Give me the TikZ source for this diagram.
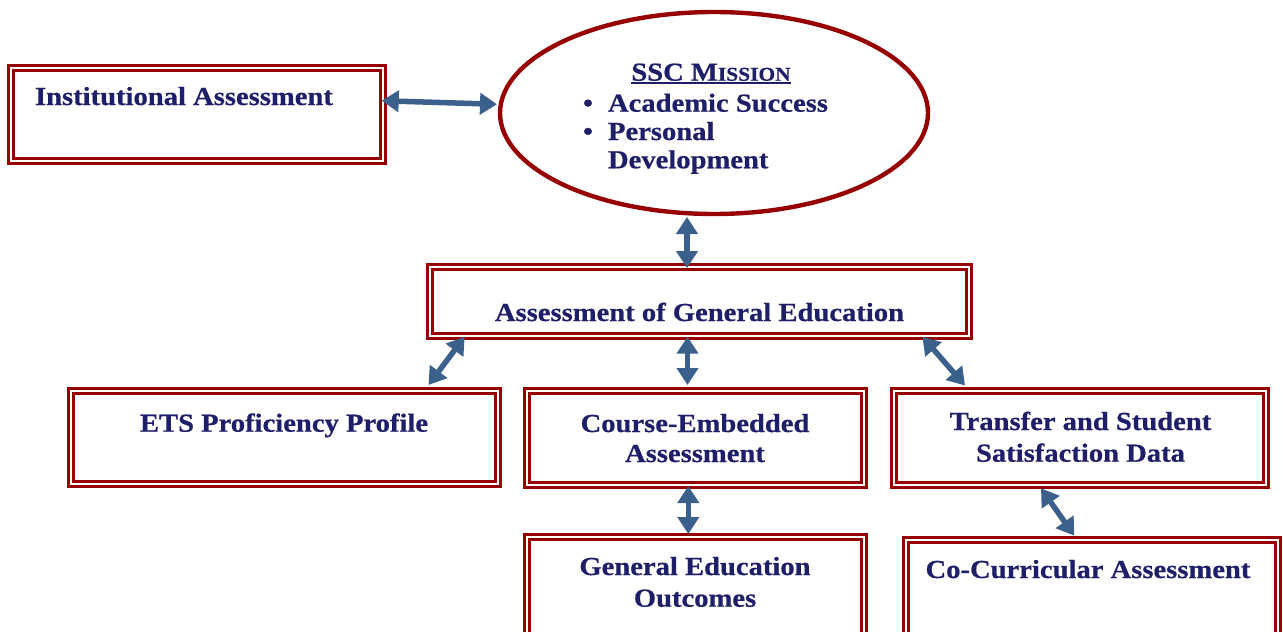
\documentclass[tikz,border=0pt]{standalone}
\usepackage{fontspec}
\setmainfont{Liberation Serif}[FakeStretch=1.1, BoldFeatures={FakeBold=0.6}]
\usetikzlibrary{arrows.meta,shapes.geometric}
\definecolor{boxred}{RGB}{150,0,0}
\definecolor{navy}{RGB}{30,30,105}
\definecolor{arrblue}{RGB}{60,96,140}
\begin{document}
\begin{tikzpicture}[x=1pt,y=-1pt,
  box/.style={rectangle, draw=boxred, double=white, line width=2.8pt, double distance=2pt, inner sep=0pt, outer sep=0pt},
  lbl/.style={text=navy, font=\fontsize{26}{30}\selectfont\bfseries, inner sep=0pt, outer sep=0pt, anchor=base},
  conn/.style={draw=arrblue, line width=5.5pt, {Triangle[width=21pt 0,length=17pt 0]}-{Triangle[width=21pt 0,length=17pt 0]}}
]
\useasboundingbox (0,0) rectangle (1283,632);
\clip (0,0) rectangle (1283,632);

% boxes
\node[box, minimum width=372.4pt, minimum height=93.4pt] (inst) at (197,114.5) {};
\node[ellipse, draw=boxred, line width=4.4pt, minimum width=428pt, minimum height=202pt, inner sep=0pt, outer sep=0pt] (mission) at (714,113) {};
\node[box, minimum width=539.4pt, minimum height=69.4pt] (age) at (699.5,301.5) {};
\node[box, minimum width=427.4pt, minimum height=93.4pt] (ets) at (284.5,437.5) {};
\node[box, minimum width=337.4pt, minimum height=94.4pt] (cemb) at (695.5,438) {};
\node[box, minimum width=372.4pt, minimum height=94.4pt] (tsd) at (1080,438) {};
\node[box, minimum width=337.4pt, minimum height=99.4pt] (geo) at (695.5,586.5) {};
\node[box, minimum width=372.4pt, minimum height=96.4pt] (co) at (1092,588) {};

% texts
\node[lbl, anchor=base west] (instT) at (35,105) {Institutional Assessment};
\node[lbl] (missionT) at (711,80.7) {\sbox0{SSC M{\fontsize{19.5}{24}\selectfont ISSION}}\rlap{\usebox0}\rule[-3.2pt]{\wd0}{1.8pt}};
\node[lbl] (bul1) at (588,111.7) {\textbullet};
\node[lbl, anchor=base west] (m1) at (608,111.7) {Academic Success};
\node[lbl] (bul2) at (588,140) {\textbullet};
\node[lbl, anchor=base west] (m2) at (608,140) {Personal};
\node[lbl, anchor=base west] (m3) at (608,168.3) {Development};
\node[lbl] (ageT) at (699.5,321) {Assessment of General Education};
\node[lbl] (etsT) at (284,431.7) {ETS Proficiency Profile};
\node[lbl] (cembT1) at (695,432) {Course-Embedded};
\node[lbl] (cembT2) at (695,462) {Assessment};
\node[lbl] (tsdT1) at (1080.5,430) {Transfer and Student};
\node[lbl] (tsdT2) at (1080.5,461.7) {Satisfaction Data};
\node[lbl] (geoT1) at (695,575) {General Education};
\node[lbl] (geoT2) at (695,606.7) {Outcomes};
\node[lbl] (coT) at (1088,578) {Co-Curricular Assessment};

% connectors
\draw[conn] ([shift={(-1.5,-13.8)}]inst.east) -- ([shift={(-3,-8.7)}]mission.west);
\draw[conn] ([shift={(-27,3)}]mission.south) -- ([shift={(-12.5,1.3)}]age.north);
\draw[conn] ([shift={(34.9,0.5)}]age.south west) -- ([shift={(144,-5.8)}]ets.north);
\draw[conn] ([shift={(-12,0.5)}]age.south) -- ([shift={(-8,-5.8)}]cemb.north);
\draw[conn] ([shift={(-46.8,0.5)}]age.south east) -- ([shift={(-115,-5.3)}]tsd.north);
\draw[conn] ([shift={(-7.2,0.8)}]cemb.south) -- ([shift={(-7.2,-2.8)}]geo.north);
\draw[conn] ([shift={(-39,3.1)}]tsd.south) -- ([shift={(-17.7,-4.1)}]co.north);
\end{tikzpicture}
\end{document}
